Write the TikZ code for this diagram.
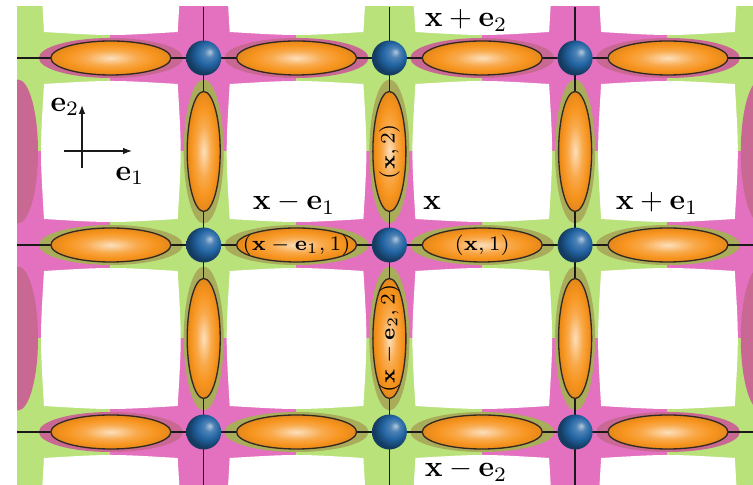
\documentclass[tikz,border=0pt]{standalone}
\usepackage{amsmath,amssymb}
\usepackage{tikz}
\usetikzlibrary{arrows.meta,positioning,calc}
\definecolor{cGrn}{HTML}{B9E27A}
\definecolor{cPnk}{HTML}{E471C0}
\definecolor{cOli}{HTML}{A8AC5B}
\definecolor{cMau}{HTML}{CA6894}
\definecolor{cOrg}{HTML}{F7941E}
\definecolor{cBall}{HTML}{2264A3}
\definecolor{cInk}{HTML}{1A1A1A}
\pgfdeclareradialshading{bondshade}{\pgfpoint{0bp}{0bp}}{%
  color(0bp)=(cOrg!30!white); color(11bp)=(cOrg!80!white);
  color(19bp)=(cOrg); color(25bp)=(cOrg!92!black); color(50bp)=(cOrg!92!black)}
\pgfdeclareradialshading{vtxshade}{\pgfpoint{9bp}{9bp}}{%
  color(0bp)=(cBall!35!white); color(7bp)=(cBall!80!white);
  color(16bp)=(cBall); color(26bp)=(cBall!60!black); color(50bp)=(cBall!50!black)}
\tikzset{
  >=Stealth,
  lat/.style  ={line width=0.45pt,draw=cInk},
  axis/.style ={line width=0.45pt,draw=cInk,-{Latex[length=3pt,width=2.2pt]}},
  bond/.style ={shade,shading=bondshade,draw=cInk!85!brown,line width=0.45pt},
  vtx/.style  ={circle,shading=vtxshade,minimum size=11.9pt,inner sep=0pt},
  lbl/.style  ={font=\normalsize,inner sep=1pt},
  blbl/.style ={font=\scriptsize,inner sep=0pt},
}
\begin{document}
\begin{tikzpicture}[x=0.34pt,y=0.34pt]
\def\xo{18}\def\dx{185.7}
\def\yo{427}\def\dy{187}
\def\cin{26}\def\cbul{22}
\useasboundingbox (0,0) rectangle (753,485);
\begin{scope}
\clip (17,0) rectangle (753,478);
% checkerboard of vertex colours
\foreach \i in {0,...,4}
  \foreach \j in {0,1,2}{
    \pgfmathtruncatemacro{\k}{\i+\j}
    \ifodd\k \def\tile{cPnk}\else \def\tile{cGrn}\fi
    \fill[\tile] ({\xo+\dx*(\i-0.5)-0.5},{\yo-\dy*(\j+0.5)-0.5})
      rectangle ({\xo+\dx*(\i+0.5)+0.5},{\yo-\dy*(\j-0.5)+0.5});
  }
% white plaquettes
\foreach \i in {0,...,3}
  \foreach \j in {-1,0,1,2}{
    \pgfmathsetmacro{\xa}{\xo+\dx*\i}
    \pgfmathsetmacro{\xb}{\xa+\dx}
    \pgfmathsetmacro{\yb}{\yo-\dy*(\j)}
    \pgfmathsetmacro{\ya}{\yb-\dy}
    \pgfmathsetmacro{\xm}{(\xa+\xb)/2}
    \pgfmathsetmacro{\ym}{(\ya+\yb)/2}
    \fill[white] (\xa+\cin,\ya+\cin) .. controls (\xm,\ya+\cbul) .. (\xb-\cin,\ya+\cin)
      .. controls (\xb-\cbul,\ym) .. (\xb-\cin,\yb-\cin)
      .. controls (\xm,\yb-\cbul) .. (\xa+\cin,\yb-\cin)
      .. controls (\xa+\cbul,\ym) .. (\xa+\cin,\ya+\cin) -- cycle;
  }
% halos
\foreach \i/\j/\hc in {0/0/cMau,1/0/cMau,2/0/cMau,3/0/cMau,
                      0/1/cOli,1/1/cOli,2/1/cOli,3/1/cOli,
                      0/2/cMau,1/2/cOli,2/2/cOli,3/2/cMau}
  \fill[\hc] ({\xo+\dx*(\i+0.5)},{\yo-\dy*\j}) ellipse [x radius=72,y radius=20];
\foreach \i/\j/\hc in {0/0/cMau,0/1/cMau,1/0/cOli,1/1/cOli,2/0/cOli,
                      2/1/cOli,3/0/cOli,3/1/cOli,4/0/cMau,4/1/cMau}
  \fill[\hc] ({\xo+\dx*\i},{\yo-\dy*(\j+0.5)}) ellipse [x radius=20,y radius=72];
% lattice lines
\foreach \j in {0,1,2}{
  \coordinate (hl-\j) at (17,{\yo-\dy*\j});
  \coordinate (hr-\j) at (753,{\yo-\dy*\j});
  \draw[lat] (hl-\j) -- (hr-\j);
}
\foreach \i in {1,2,3}{
  \coordinate (vt-\i) at ({\xo+\dx*\i},478);
  \coordinate (vb-\i) at ({\xo+\dx*\i},0);
  \draw[lat] (vt-\i) -- (vb-\i);
}
% bonds
\foreach \i in {0,...,3}
  \foreach \j in {0,1,2}
    \path[bond] ({\xo+\dx*(\i+0.5)},{\yo-\dy*\j}) ellipse [x radius=60,y radius=17];
\foreach \i in {1,2,3}
  \foreach \j in {0,1}
    \path[bond] ({\xo+\dx*\i},{\yo-\dy*(\j+0.5)}) ellipse [x radius=16.5,y radius=60];
% vertices
\foreach \i in {1,2,3}
  \foreach \j in {0,1,2}
    \node[vtx] (v-\i-\j) at ({\xo+\dx*\i},{\yo-\dy*\j}) {};
\end{scope}
% bond labels
\node[blbl] (b-xm1) at ($(v-1-1)!0.5!(v-2-1)$) {$(\mathbf{x}-\mathbf{e}_1,1)$};
\node[blbl] (b-x1) at ($(v-2-1)!0.5!(v-3-1)$) {$(\mathbf{x},1)$};
\node[blbl,rotate=90] (b-x2) at ($(v-2-0)!0.5!(v-2-1)$) {$(\mathbf{x},2)$};
\node[blbl,rotate=90] (b-xm2) at ($(v-2-1)!0.5!(v-2-2)$) {$(\mathbf{x}-\mathbf{e}_2,2)$};
% site labels
\node[lbl,anchor=base] (s-xp2) at (466,458) {$\mathbf{x}+\mathbf{e}_2$};
\node[lbl,anchor=base] (s-xm1) at (294,275) {$\mathbf{x}-\mathbf{e}_1$};
\node[lbl,anchor=base] (s-x) at (432,275) {$\mathbf{x}$};
\node[lbl,anchor=base] (s-xp1) at (657,275) {$\mathbf{x}+\mathbf{e}_1$};
\node[lbl,anchor=base] (s-xm2) at (466,8) {$\mathbf{x}-\mathbf{e}_2$};
% axes
\coordinate (ax-b) at (82,317);
\coordinate (ax-t) at (82,380);
\coordinate (ax-l) at (64,334);
\coordinate (ax-r) at (132,334);
\draw[axis] (ax-b) -- (ax-t);
\draw[axis] (ax-l) -- (ax-r);
\node[lbl] (e2) at (65,378) {$\mathbf{e}_2$};
\node[lbl] (e1) at (130,309) {$\mathbf{e}_1$};
\end{tikzpicture}
\end{document}
